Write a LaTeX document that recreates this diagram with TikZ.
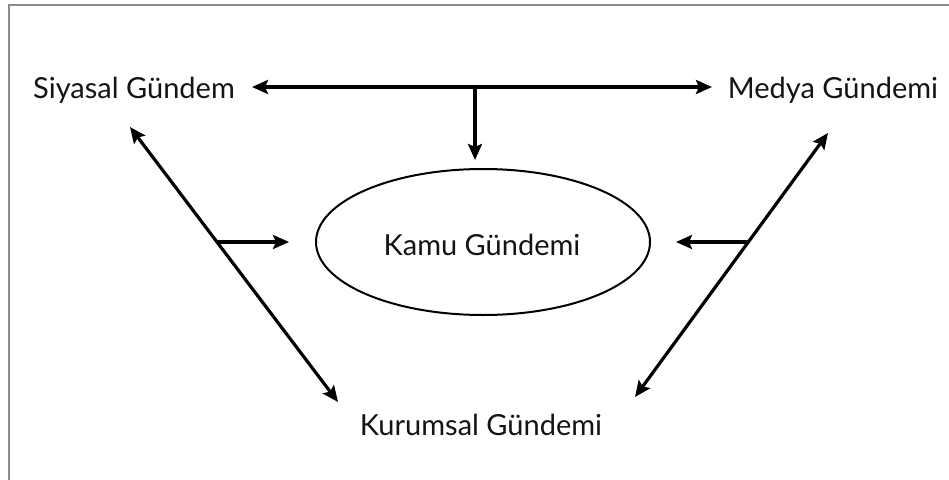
\documentclass[tikz,border=0pt]{standalone}
\usepackage{fontspec}
\setmainfont{Lato}
\usetikzlibrary{arrows.meta,shapes.geometric}
\begin{document}
\begin{tikzpicture}[x=1pt,y=-1pt,
  lbl/.style={font=\fontsize{29}{34}\selectfont, text=black!92, anchor=base, inner sep=0pt},
  tip/.style={},
  conn/.style={line width=3.2pt, -{Stealth[length=16pt,width=14pt,inset=3pt]}},
  biconn/.style={line width=3.2pt, {Stealth[length=16pt,width=14pt,inset=3pt]}-{Stealth[length=16pt,width=14pt,inset=3pt]}},
  frame/.style={draw=black!45, line width=2pt}]
\useasboundingbox (0,0) rectangle (949,479);
\draw[frame] (9,490) -- (9,5) -- (960,5);
% labels
\node[lbl] (siy) at (134,98) {Siyasal Gündem};
\node[lbl] (med) at (833,98) {Medya Gündemi};
\node[lbl] (kur) at (481,435) {Kurumsal Gündemi};
\node[draw, ellipse, line width=2pt, minimum width=334pt, minimum height=146pt,
      inner sep=0pt] (kamu) at (483,242) {};
\node[lbl] (kamut) at (482,255) {Kamu Gündemi};
% coordinates for connector ends
\coordinate (hL) at (252,87);
\coordinate (hR) at (712,87);
\coordinate (hM) at (475,87);
\coordinate (vT) at (475,160);
\coordinate (dL1) at (130,127);
\coordinate (dL2) at (338,402);
\coordinate (bL) at (217.6,242);
\coordinate (bLt) at (289,242);
\coordinate (dR1) at (828,133);
\coordinate (dR2) at (635,397);
\coordinate (bR) at (748,242);
\coordinate (bRt) at (676,242);
% connectors
\draw[biconn] (hL) -- (hR);
\draw[conn] (hM) -- (vT);
\draw[biconn] (dL1) -- (dL2);
\draw[conn] (bL) -- (bLt);
\draw[biconn] (dR1) -- (dR2);
\draw[conn] (bR) -- (bRt);
\end{tikzpicture}
\end{document}
